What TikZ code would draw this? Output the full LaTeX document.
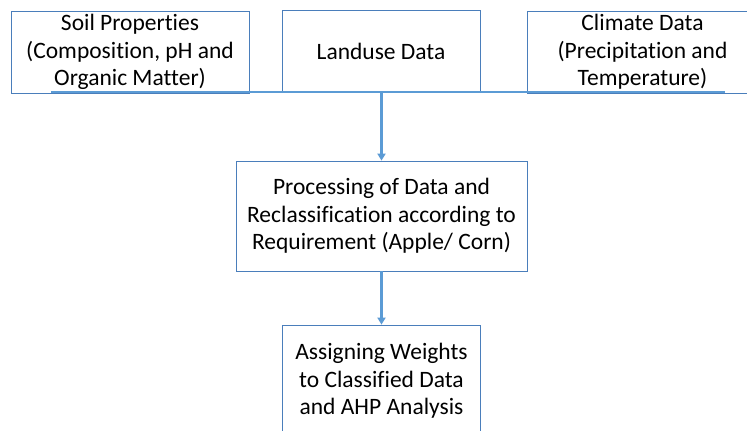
\documentclass[tikz,border=0pt]{standalone}
\usepackage{fontspec}
\setmainfont[Ligatures=NoCommon]{Carlito}
\usetikzlibrary{arrows.meta}
\definecolor{boxblue}{HTML}{4A7EBB}
\definecolor{linkblue}{HTML}{5B9BD5}
\begin{document}
\begin{tikzpicture}[x=1bp,y=-1bp,
  box/.style={draw=boxblue,line width=0.8bp,rectangle,align=center,inner sep=0pt,
    font=\fontsize{23.5bp}{27.5bp}\selectfont,text=black},
  conn/.style={draw=linkblue,line width=2.4bp},
  arr/.style={conn,-{Triangle[width=8bp,length=7bp]}}]
\clip (0,0) rectangle (747,430);
\fill[white] (0,0) rectangle (747,430);
\node[box,minimum width=238bp,minimum height=82bp] (soil) at (130,52)
  {Soil Properties\\(Composition, pH and\\Organic Matter)};
\node[box,minimum width=198bp,minimum height=82bp] (land) at (381,51) {Landuse Data};
\node[box,minimum width=231bp,minimum height=82bp] (clim) at (642.5,52)
  {Climate Data\\(Precipitation and\\Temperature)};
\node[box,minimum width=291bp,minimum height=110bp] (proc) at (381.5,216)
  {Processing of Data and\\Reclassification according to\\Requirement (Apple/ Corn)};
\node[box,minimum width=198bp,minimum height=112bp] (ahp) at (381.5,381)
  {Assigning Weights\\to Classified Data\\and AHP Analysis};
\coordinate (hl) at (51,92);
\coordinate (hr) at (725,92);
\coordinate (hm) at (381.5,92);
\draw[conn] (hl) -- (hr);
\draw[arr] (hm) -- (proc.north);
\draw[arr] (proc.south) -- (ahp.north);
\end{tikzpicture}
\end{document}
